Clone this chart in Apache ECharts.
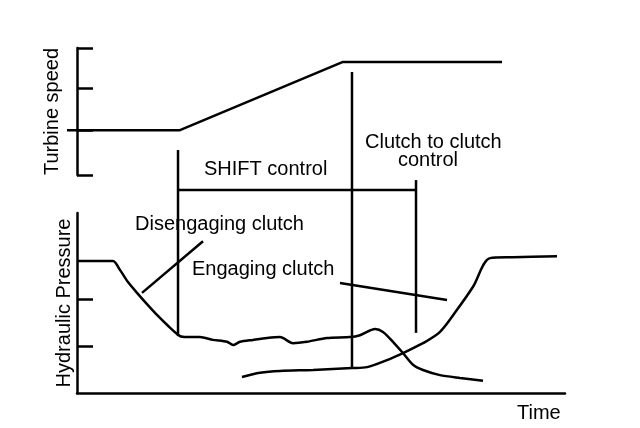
<!DOCTYPE html>
<html>
<head>
<meta charset="utf-8">
<script src="https://cdn.jsdelivr.net/npm/echarts@6/dist/echarts.min.js"></script>
<style>
  html, body { margin: 0; padding: 0; background: #fff; }
  #chart { width: 640px; height: 428px; }
</style>
</head>
<body>
<div id="chart"></div>
<script>
// time in arbitrary units (0..100 along the bottom axis)
const speedLine = [[-2.05, 1.06], [21.1, 1.06], [54.5, 2.67], [87.1, 2.67]];
const speedTicks = [0, 1.06, 2.05, 3];

const disengaging = [
  [0, 2.81], [7.38, 2.81], [8.8, 2.62], [10.45, 2.36], [12.3, 2.13], [14.34, 1.89],
  [16.39, 1.66], [18.65, 1.43], [21.11, 1.21], [22.54, 1.19], [25.2, 1.19], [27.87, 1.13],
  [30.74, 1.09], [31.97, 1.02], [33.4, 1.09], [36.07, 1.13], [38.93, 1.17], [41.6, 1.19],
  [44.26, 1.06], [47.13, 1.09], [51.23, 1.17], [55.94, 1.19], [57.99, 1.23], [61.07, 1.36],
  [62.7, 1.3], [64.75, 1.09], [66.8, 0.85], [68.85, 0.6], [70.9, 0.49], [74.39, 0.38],
  [78.48, 0.32], [83.2, 0.26]
];

const engaging = [
  [33.81, 0.34], [37.5, 0.43], [41.6, 0.47], [48.36, 0.49], [56.35, 0.53], [59.43, 0.55],
  [63.52, 0.7], [66.8, 0.85], [70.9, 1.06], [74.39, 1.3], [77.87, 1.77], [81.15, 2.26],
  [84.63, 2.87], [89.34, 2.89], [98.36, 2.91]
];

// annotation lines, in the pressure panel's units
const markerShiftStart = [[20.7, 1.21], [20.7, 5.17]];
const markerClutchStart = [[56.35, 0.53], [56.35, 6.83]];
const markerShiftEnd = [[69.47, 1.28], [69.47, 4.53]];
const shiftBracket = [[20.7, 4.32], [69.47, 4.32]];
const pointerDis = [[13.32, 2.13], [25.82, 3.23]];
const pointerEng = [[53.89, 2.34], [75.82, 1.98]];

const pressureTicks = [1, 2];

const chart = echarts.init(document.getElementById('chart'));
const font = 'Liberation Sans, Arial, sans-serif';
const lineStyle = { color: '#000', width: 2.5 };

function plain(data, xi, yi, clip, smooth) {
  return {
    type: 'line', xAxisIndex: xi, yAxisIndex: yi, data: data,
    symbol: 'none', smooth: smooth || false, clip: clip, silent: true,
    lineStyle: lineStyle
  };
}

function label(text, x, y) {
  return {
    type: 'text', left: x, top: y,
    style: { text: text, font: '20px ' + font, fill: '#000' }
  };
}

const option = {
  backgroundColor: '#fff',
  animation: false,
  grid: [
    { left: 67, right: 75, top: 48, height: 127, outerBoundsMode: 'none', containLabel: false },
    { left: 77, right: 75, top: 213, height: 180, outerBoundsMode: 'none', containLabel: false }
  ],
  xAxis: [
    { gridIndex: 0, type: 'value', min: -2.05, max: 100, show: false },
    {
      gridIndex: 1, type: 'value', min: 0, max: 100,
      axisLine: { show: true, lineStyle: lineStyle },
      axisTick: { show: false }, axisLabel: { show: false }, splitLine: { show: false },
      name: 'Time', nameLocation: 'end', nameGap: -48,
      nameTextStyle: { fontFamily: font, fontSize: 20, color: '#000', verticalAlign: 'top', padding: [10, 0, 0, 0] }
    }
  ],
  yAxis: [
    {
      gridIndex: 0, type: 'value', min: 0, max: 3,
      axisLine: { show: true, lineStyle: lineStyle },
      axisTick: { show: true, inside: true, length: 16, customValues: speedTicks, lineStyle: lineStyle },
      axisLabel: { show: false }, splitLine: { show: false },
      name: 'Turbine speed', nameLocation: 'middle', nameGap: 5, nameRotate: 90,
      nameTextStyle: { fontFamily: font, fontSize: 20, color: '#000' }
    },
    {
      gridIndex: 1, type: 'value', min: 0, max: 3.83,
      axisLine: { show: true, lineStyle: lineStyle },
      axisTick: { show: true, inside: true, length: 16, customValues: pressureTicks, lineStyle: lineStyle },
      axisLabel: { show: false }, splitLine: { show: false },
      name: 'Hydraulic Pressure', nameLocation: 'middle', nameGap: 3, nameRotate: 90,
      nameTextStyle: { fontFamily: font, fontSize: 20, color: '#000' }
    }
  ],
  series: [
    plain(speedLine, 0, 0, false),
    plain(disengaging, 1, 1, true, 0.25),
    plain(engaging, 1, 1, true, 0.3),
    plain(markerShiftStart, 1, 1, false),
    plain(markerClutchStart, 1, 1, false),
    plain(markerShiftEnd, 1, 1, false),
    plain(shiftBracket, 1, 1, false),
    plain(pointerDis, 1, 1, false),
    plain(pointerEng, 1, 1, false)
  ],
  graphic: [
    label('SHIFT control', 204, 159),
    label('Clutch to clutch', 365, 132),
    label('control', 398, 150),
    label('Disengaging clutch', 135, 214),
    label('Engaging clutch', 192, 259)
  ]
};

chart.setOption(option);
</script>
</body>
</html>
